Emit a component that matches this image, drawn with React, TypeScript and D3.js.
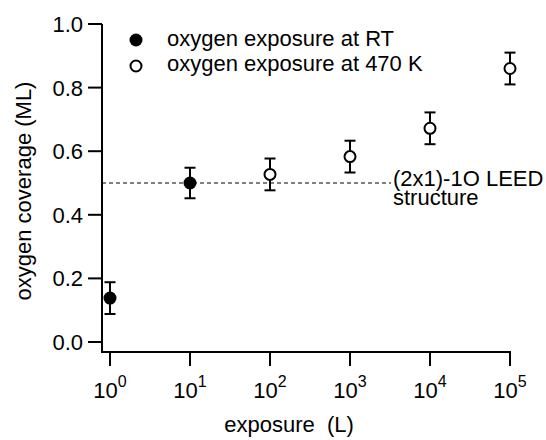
import React from "react";
import * as d3 from "d3";

const rtExposure = [1, 10];
const rtCoverage = [0.138, 0.5];
const rtError = [0.05, 0.048];

const hotExposure = [100, 1000, 10000, 100000];
const hotCoverage = [0.527, 0.583, 0.672, 0.86];
const hotError = [0.05, 0.05, 0.05, 0.05];

const yTicks = [0, 0.2, 0.4, 0.6, 0.8, 1.0];
const xTickExponents = [0, 1, 2, 3, 4, 5];
const leedLevel = 0.5;

const legendLabels = ["oxygen exposure at RT", "oxygen exposure at 470 K"];
const FONT = "'Liberation Sans', Arial, Helvetica, sans-serif";

export default function App() {
  const W = 546, H = 440;
  const x = d3.scaleLog().domain([1, 1e5]).range([110, 510]);
  const y = d3.scaleLinear().domain([0, 1]).range([342, 24]);
  const axisX = 102;
  const axisY = 352;
  const cap = 5.5;

  const errBar = (xv: number, yv: number, e: number, key: string) => (
    <g key={key} stroke="#000" strokeWidth={2}>
      <line x1={x(xv)} x2={x(xv)} y1={y(yv + e)} y2={y(yv - e)} />
      <line x1={x(xv) - cap} x2={x(xv) + cap} y1={y(yv + e)} y2={y(yv + e)} />
      <line x1={x(xv) - cap} x2={x(xv) + cap} y1={y(yv - e)} y2={y(yv - e)} />
    </g>
  );

  return (
    <svg width={W} height={H} style={{ position: "absolute", left: 0, top: 0, background: "#fff" }} fontFamily={FONT}>
      <rect width={W} height={H} fill="#fff" />
      {/* axes */}
      <line x1={axisX} x2={axisX} y1={y(1)} y2={axisY + 1} stroke="#000" strokeWidth={2} />
      <line x1={axisX - 1} x2={x(1e5) + 1} y1={axisY} y2={axisY} stroke="#000" strokeWidth={2} />
      {yTicks.map((t) => (
        <g key={"y" + t}>
          <line x1={axisX - 14} x2={axisX} y1={y(t)} y2={y(t)} stroke="#000" strokeWidth={2} />
          <text x={axisX - 19} y={y(t)} dy="0.36em" textAnchor="end" fontSize={22}>
            {d3.format(".1f")(t)}
          </text>
        </g>
      ))}
      {xTickExponents.map((e) => (
        <g key={"x" + e}>
          <line x1={x(Math.pow(10, e))} x2={x(Math.pow(10, e))} y1={axisY} y2={axisY + 14} stroke="#000" strokeWidth={2} />
          <text x={x(Math.pow(10, e))} y={398} textAnchor="middle" fontSize={22}>
            10<tspan fontSize={16} dy={-11}>{e}</tspan>
          </text>
        </g>
      ))}
      {/* axis labels */}
      <text x={289} y={432} textAnchor="middle" fontSize={22} style={{ whiteSpace: "pre" }}>
        {"exposure  (L)"}
      </text>
      <text transform={`translate(31,${191}) rotate(-90)`} textAnchor="middle" fontSize={22}>
        oxygen coverage (ML)
      </text>
      {/* LEED reference line */}
      <line x1={axisX} x2={391} y1={y(leedLevel)} y2={y(leedLevel)} stroke="#000" strokeWidth={1} strokeDasharray="4,3" />
      <text x={393} y={186} fontSize={22}>
        <tspan x={393}>(2x1)-1O LEED</tspan>
        <tspan x={393} dy={19}>structure</tspan>
      </text>
      {/* data */}
      {rtExposure.map((xv, i) => errBar(xv, rtCoverage[i], rtError[i], "rte" + i))}
      {hotExposure.map((xv, i) => errBar(xv, hotCoverage[i], hotError[i], "hte" + i))}
      {rtExposure.map((xv, i) => (
        <circle key={"rt" + i} cx={x(xv)} cy={y(rtCoverage[i])} r={6.5} fill="#000" />
      ))}
      {hotExposure.map((xv, i) => (
        <circle key={"h" + i} cx={x(xv)} cy={y(hotCoverage[i])} r={5.5} fill="#fff" stroke="#000" strokeWidth={2} />
      ))}
      {/* legend */}
      <circle cx={136} cy={40} r={6.5} fill="#000" />
      <circle cx={136} cy={66} r={5.5} fill="#fff" stroke="#000" strokeWidth={2} />
      <text x={167} y={46} fontSize={22}>{legendLabels[0]}</text>
      <text x={167} y={71} fontSize={22}>{legendLabels[1]}</text>
    </svg>
  );
}
